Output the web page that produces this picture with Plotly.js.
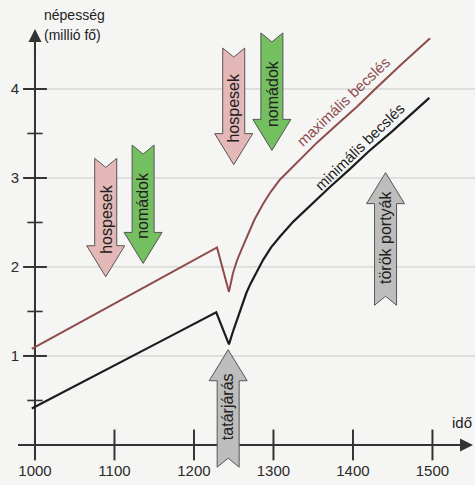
<!DOCTYPE html>
<html>
<head>
<meta charset="utf-8">
<script src="https://cdn.plot.ly/plotly-3.0.1.min.js"></script>
<style>
html,body{margin:0;padding:0;background:#f5f5f3;}
#chart{width:475px;height:485px;}
</style>
</head>
<body>
<div id="chart"></div>
<script>
// ---- data ----
const yearsMax = [996, 1060, 1115, 1170, 1229, 1244, 1249, 1254, 1260, 1266, 1276, 1287, 1297, 1308, 1320, 1333, 1355, 1380, 1405, 1428, 1460, 1497];
const popMax   = [1.08, 1.39, 1.66, 1.93, 2.22, 1.72, 1.93, 2.07, 2.20, 2.33, 2.53, 2.71, 2.85, 2.98, 3.09, 3.20, 3.40, 3.60, 3.80, 4.00, 4.27, 4.57];
const yearsMin = [996, 1060, 1115, 1170, 1228, 1244, 1250, 1256, 1261, 1266, 1271, 1276, 1282, 1287, 1297, 1308, 1325, 1346, 1370, 1396, 1420, 1450, 1496];
const popMin   = [0.41, 0.71, 0.97, 1.22, 1.49, 1.13, 1.30, 1.46, 1.59, 1.71, 1.81, 1.90, 2.00, 2.08, 2.22, 2.34, 2.51, 2.69, 2.89, 3.10, 3.30, 3.53, 3.90];

const xTicks = [1000, 1100, 1200, 1300, 1400, 1500];
const yTicks = [1, 2, 3, 4];
const yMinorTicks = [0.5, 1.5, 2.5, 3.5];

const seriesNames = ['maximális becslés', 'minimális becslés'];
const xAxisLabel = 'idő';
const yAxisLabel = ['népesség', '(millió fő)'];

// event arrows: label, year (centre), tail value, tip value
const arrowLabels = ['hospesek', 'nomádok', 'hospesek', 'nomádok', 'tatárjárás', 'török portyák'];
const arrowYears  = [1089, 1136, 1250, 1298, 1243, 1441];
const arrowTails  = [3.22, 3.37, 4.46, 4.63, -0.25, 1.57];
const arrowTips   = [1.89, 2.04, 3.15, 3.31, 1.07, 3.06];
const arrowKinds  = ['pink', 'green', 'pink', 'green', 'grey', 'grey'];

// ---- layout geometry ----
const W = 475, H = 485;
const xRange = [956, 1553.5];
const yRange = [-0.45, 5.0];
const kx = (xRange[1] - xRange[0]) / W;   // years per px
const ky = (yRange[1] - yRange[0]) / H;   // units per px

const fills = {pink: '#e4b8b6', green: '#74bf60', grey: '#bdbdbd'};
const FONT = '"Liberation Sans", Arial, sans-serif';

function arrowPath(cx, tail, tip) {
  const s = tail > tip ? 1 : -1;
  const w = 11 * kx, hw = 19 * kx;
  const headLen = 31 * ky, notch = 9 * ky;
  const base = tip + s * headLen;
  const nY = tail - s * notch;
  const pts = [
    [cx - w, tail], [cx, nY], [cx + w, tail], [cx + w, base], [cx + hw, base],
    [cx, tip], [cx - hw, base], [cx - w, base]
  ];
  return 'M' + pts.map(p => p[0].toFixed(3) + ',' + p[1].toFixed(4)).join(' L') + ' Z';
}

const shapes = [];
// gridlines
yTicks.forEach(v => shapes.push({type: 'line', xref: 'x', yref: 'y', x0: xTicks[0], x1: xRange[1], y0: v, y1: v,
  line: {color: '#c9c9c7', width: 1}, layer: 'below'}));
// axis lines
shapes.push({type: 'line', xref: 'x', yref: 'y', x0: xRange[0] + 18 * kx, x1: xRange[0] + 458 * kx, y0: 0, y1: 0,
  line: {color: '#333', width: 2}, layer: 'below'});
shapes.push({type: 'line', xref: 'x', yref: 'y', x0: xTicks[0], x1: xTicks[0], y0: -12 * ky, y1: yRange[1] - 45 * ky,
  line: {color: '#333', width: 2}, layer: 'below'});
// event arrows
arrowLabels.forEach((lab, i) => shapes.push({type: 'path', xref: 'x', yref: 'y',
  path: arrowPath(arrowYears[i], arrowTails[i], arrowTips[i]),
  fillcolor: fills[arrowKinds[i]], line: {color: '#555', width: 1}, layer: 'above'}));

const annotations = [];
// axis arrowheads
annotations.push({x: xRange[0] + 473 * kx, y: 0, ax: xRange[0] + 440 * kx, ay: 0, xref: 'x', yref: 'y', axref: 'x', ayref: 'y',
  showarrow: true, arrowhead: 2, arrowsize: 1.3, arrowwidth: 2, arrowcolor: '#333', text: ''});
annotations.push({x: xTicks[0], y: yRange[1] - 29 * ky, ax: xTicks[0], ay: yRange[1] - 60 * ky, xref: 'x', yref: 'y', axref: 'x', ayref: 'y',
  showarrow: true, arrowhead: 2, arrowsize: 1.3, arrowwidth: 2, arrowcolor: '#333', text: ''});
// axis titles
annotations.push({xref: 'paper', yref: 'paper', x: 42 / W, y: 1 - 15 / H, xanchor: 'left', yanchor: 'middle',
  text: yAxisLabel[0], showarrow: false, font: {family: FONT, size: 14, color: '#222'}});
annotations.push({xref: 'paper', yref: 'paper', x: 42 / W, y: 1 - 35 / H, xanchor: 'left', yanchor: 'middle',
  text: yAxisLabel[1], showarrow: false, font: {family: FONT, size: 14, color: '#222'}});
annotations.push({xref: 'paper', yref: 'paper', x: 450 / W, y: 1 - 422 / H, xanchor: 'left', yanchor: 'middle',
  text: xAxisLabel, showarrow: false, font: {family: FONT, size: 15, color: '#222'}});
// curve labels
annotations.push({xref: 'x', yref: 'y', x: 1387.5, y: 3.865, text: seriesNames[0], textangle: -43.5, showarrow: false,
  font: {family: FONT, size: 15, color: '#8e4a4a'}});
annotations.push({xref: 'x', yref: 'y', x: 1408.8, y: 3.35, text: seriesNames[1], textangle: -44, showarrow: false,
  font: {family: FONT, size: 15, color: '#1e1e1e'}});
// arrow labels
arrowLabels.forEach((lab, i) => {
  const s = arrowTails[i] > arrowTips[i] ? 1 : -1;
  const nY = arrowTails[i] - s * 9 * ky;
  annotations.push({xref: 'x', yref: 'y', x: arrowYears[i], y: (nY + arrowTips[i]) / 2 + s * 3 * ky,
    text: lab, textangle: -90, showarrow: false, font: {family: FONT, size: 16, color: '#222'}});
});

const traces = [
  {x: yearsMax, y: popMax, mode: 'lines', name: seriesNames[0], line: {color: '#8e4c4c', width: 2}, hoverinfo: 'skip'},
  {x: yearsMin, y: popMin, mode: 'lines', name: seriesNames[1], line: {color: '#1c1c1c', width: 2.2}, hoverinfo: 'skip'},
  // crossing tick marks
  {x: xTicks, y: xTicks.map(() => 0), mode: 'markers', hoverinfo: 'skip',
    marker: {symbol: 'line-ns', size: 22, line: {color: '#333', width: 2}}},
  {x: yTicks.map(() => xTicks[0]), y: yTicks, mode: 'markers', hoverinfo: 'skip',
    marker: {symbol: 'line-ew', size: 17, line: {color: '#333', width: 2}}},
  {x: yMinorTicks.map(() => xTicks[0]), y: yMinorTicks, mode: 'markers', hoverinfo: 'skip',
    marker: {symbol: 'line-ew', size: 11, line: {color: '#333', width: 1.6}}}
];

const layout = {
  width: W, height: H,
  margin: {l: 0, r: 0, t: 0, b: 0},
  paper_bgcolor: '#f5f5f3', plot_bgcolor: '#f5f5f3',
  showlegend: false,
  xaxis: {range: xRange, anchor: 'free', position: (0 - yRange[0]) / (yRange[1] - yRange[0]),
    tickvals: xTicks, ticktext: xTicks.map(String), ticks: 'outside', ticklen: 12, tickcolor: 'rgba(0,0,0,0)',
    showgrid: false, zeroline: false, showline: false,
    tickfont: {family: FONT, size: 15, color: '#2a2a2a'}},
  yaxis: {range: yRange, anchor: 'free', position: (xTicks[0] - xRange[0]) / (xRange[1] - xRange[0]),
    tickvals: yTicks, ticktext: yTicks.map(String), ticks: 'outside', ticklen: 13, tickcolor: 'rgba(0,0,0,0)',
    showgrid: false, zeroline: false, showline: false,
    tickfont: {family: FONT, size: 15, color: '#2a2a2a'}},
  shapes: shapes,
  annotations: annotations
};

Plotly.newPlot('chart', traces, layout, {staticPlot: true, displayModeBar: false});
</script>
</body>
</html>
